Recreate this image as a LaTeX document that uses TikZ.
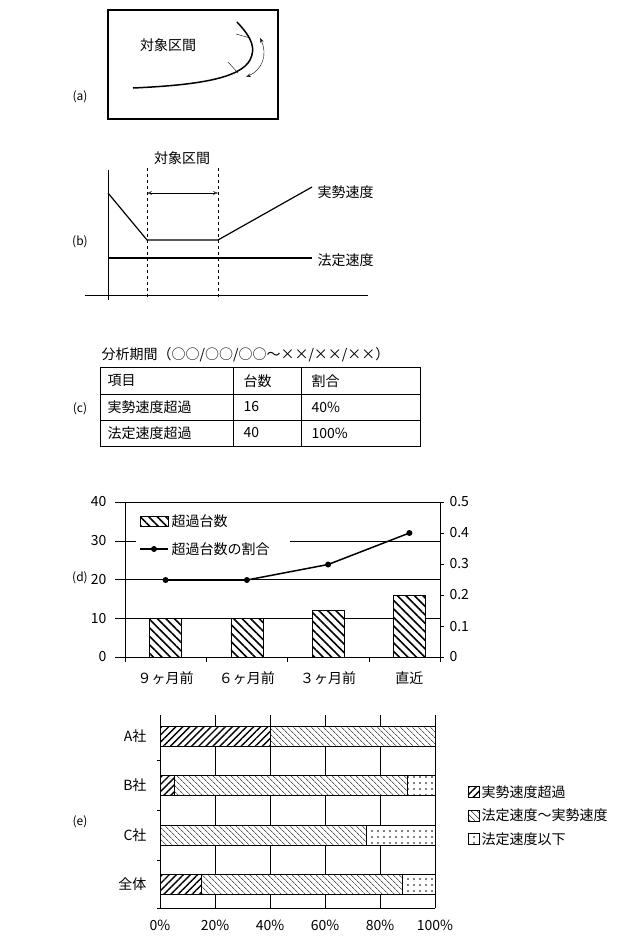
\documentclass[tikz,border=0pt]{standalone}
\usepackage{fontspec}
\setmainfont{Noto Sans CJK JP}
\usetikzlibrary{arrows.meta,patterns.meta,positioning}
\tikzset{
  lbl/.style={font=\fontsize{12}{14}\selectfont},
  txt/.style={font=\fontsize{14}{16}\selectfont},
  cell/.style={txt,anchor=west},
  tick/.style={font=\fontsize{14}{16}\selectfont},
  fast/.style={fill=white,postaction={pattern={Lines[angle=45,distance=5pt,line width=1.4pt]}}},
  mid/.style={fill=white,postaction={pattern={Lines[angle=-45,distance=4pt,line width=0.5pt]}}},
  barfill/.style={fill=white,postaction={pattern={Lines[angle=-45,distance=6pt,line width=1.6pt]}}},
  slow/.style={fill=white,postaction={pattern={Dots[distance=6pt,radius=0.8pt]}}},
}
\begin{document}
\begin{tikzpicture}[x=1pt,y=-1pt]
\useasboundingbox (0,0) rectangle (640,945);
% (a)
\node (la) [lbl] at (80,97) {(a)};
\draw [line width=1.5pt] (108,10) rectangle (278,119);
\node (ta) [txt] at (168,45) {対象区間};
\draw [line width=1.5pt] (133,88) .. controls (200,85) and (240,78) .. (250,60) .. controls (256,48) and (252,38) .. (237,22);
\draw [thin] (236,34) -- (250,38);
\draw [thin] (228,62) -- (238,73);
\draw [{Stealth[open]}-{Stealth[open]},thin] (260,38) .. controls (268,55) and (262,70) .. (246,77);
% (b)
\node (lb) [lbl] at (80,242) {(b)};
\draw (108,170) -- (108,300);
\draw (85,295) -- (368,295);
\draw [dashed] (147,168) -- (147,300);
\draw [dashed] (218,168) -- (218,300);
\node (tb) [txt] at (182,158) {対象区間};
\draw [{Stealth[open]}-{Stealth[open]},thin] (147,193) -- (218,193);
\draw [line width=1.2pt] (108,193) -- (147,240) -- (218,240) -- (312,187);
\draw [line width=1.2pt] (108,258) -- (312,258);
\node (vr) [txt,anchor=west] at (314,192) {実勢速度};
\node (vl) [txt,anchor=west] at (314,260) {法定速度};
% (c)
\node (lc) [lbl] at (80,409) {(c)};
\node (tc) [txt,anchor=west] at (98,355) {分析期間（○○/○○/○○～××/××/××）};
\draw (100,367) rectangle (420,446);
\foreach \y in {394,420} \draw (100,\y) -- (420,\y);
\foreach \x in {233,301} \draw (\x,367) -- (\x,446);
\foreach \t/\a/\b [count=\i] in {項目/台数/割合,実勢速度超過/16/40\%,法定速度超過/40/100\%} {
  \node [cell] at (104,355+26*\i) {\t};
  \node [cell] at (240,355+26*\i) {\a};
  \node [cell] at (308,355+26*\i) {\b};
}
% (d)
\node (ld) [lbl] at (80,578) {(d)};
\foreach \v in {0,10,20,30,40} {
  \draw (115,657-3.875*\v) -- (440,657-3.875*\v);
  \node [tick,anchor=east] at (110,657-3.875*\v) {\v};
}
\foreach \v/\t in {0/0,1/0.1,2/0.2,3/0.3,4/0.4,5/0.5} {
  \draw (440,657-31*\v) -- (444,657-31*\v);
  \node [tick,anchor=west] at (446,657-31*\v) {\t};
}
\draw (125,502) -- (125,657);
\draw (440,502) -- (440,660);
\foreach \x in {125,206.25,287.5,368.75,440} \draw (\x,657) -- (\x,662);
\foreach \h [count=\i] in {10,10,12,16}
  \draw [barfill] (125+81.25*\i-40.6-16,657) rectangle ++(32,-3.875*\h);
\draw [line width=1.5pt] (165.6,580) -- (246.9,580) -- (328.1,564.5) -- (409.4,533);
\foreach \x/\y in {165.6/580,246.9/580,328.1/564.5,409.4/533} \fill (\x,\y) circle (3pt);
\fill [white] (136,532) rectangle (290,560);
\draw [barfill] (140,516) rectangle (168,526);
\node (ka) [txt,anchor=west] at (168,521) {超過台数};
\draw [line width=1.5pt] (140,549) -- (168,549);
\fill (154,549) circle (3pt);
\node (kb) [txt,anchor=west] at (168,549) {超過台数の割合};
\foreach \t [count=\i] in {９ヶ月前,６ヶ月前,３ヶ月前,直近}
  \node [txt] at (125+81.25*\i-40.6,678) {\t};
% (e)
\node (le) [lbl] at (80,822) {(e)};
\foreach \p in {20,40,60,80,100} \draw (160+2.75*\p,715) -- (160+2.75*\p,908);
\draw (160,715) -- (160,908) -- (435,908);
\foreach \y in {760,810,860,908} \draw (157,\y) -- (160,\y);
\foreach \n/\y/\a/\b in {A社/736/40/100,B社/785/5/90,C社/835/0/75,全体/884/15/88} {
  \node [txt,anchor=east] at (150,\y) {\n};
  \ifnum\a>0 \draw [fast] (160,\y-10) rectangle (160+2.75*\a,\y+10); \fi
  \draw [mid] (160+2.75*\a,\y-10) rectangle (160+2.75*\b,\y+10);
  \ifnum\b<100 \draw [slow] (160+2.75*\b,\y-10) rectangle (435,\y+10); \fi
}
\foreach \p in {0,20,40,60,80,100} \node [tick] at (160+2.75*\p,925) {\p\%};
\foreach \s/\t [count=\i] in {fast/実勢速度超過,mid/法定速度～実勢速度,slow/法定速度以下} {
  \draw [\s] (468,774+23.5*\i) rectangle ++(11,-11);
  \node [txt,anchor=west] at (478,768.5+23.5*\i) {\t};
}
\end{tikzpicture}
\end{document}
